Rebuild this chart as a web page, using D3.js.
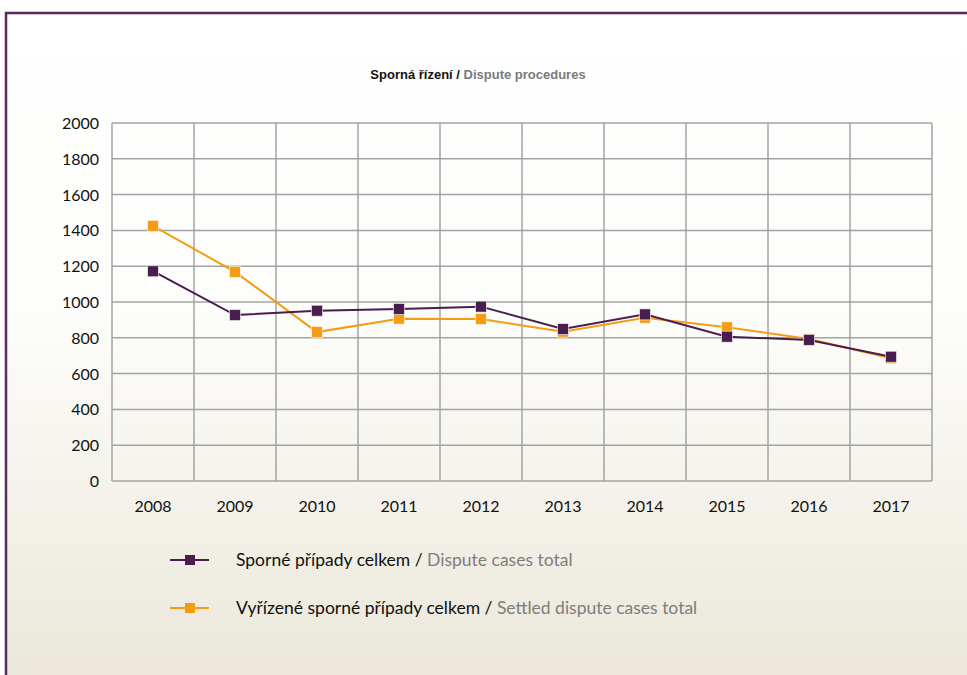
<!DOCTYPE html>
<html>
<head>
<meta charset="utf-8">
<script src="https://cdn.jsdelivr.net/npm/d3@7"></script>
<style>
  html, body { margin: 0; padding: 0; }
  body { width: 967px; height: 675px; overflow: hidden; }
</style>
</head>
<body>
<script>
"use strict";

const years = ["2008", "2009", "2010", "2011", "2012", "2013", "2014", "2015", "2016", "2017"];
const disputeTotal = [1172, 927, 951, 961, 974, 849, 931, 806, 788, 694];
const settledTotal = [1425, 1168, 832, 907, 905, 834, 912, 859, 793, 686];
const yTicks = [0, 200, 400, 600, 800, 1000, 1200, 1400, 1600, 1800, 2000];

const width = 967;
const height = 675;
const purple = "#4a1d4f";
const orange = "#f59c12";

let svg = d3.select("body").append("svg")
    .attr("width", width)
    .attr("height", height);

// background gradient
let defs = svg.append("defs");
let grad = defs.append("linearGradient")
    .attr("id", "bg")
    .attr("x1", 0).attr("y1", 0).attr("x2", 0).attr("y2", 1);
grad.append("stop").attr("offset", "0%").attr("stop-color", "#ffffff");
grad.append("stop").attr("offset", "45%").attr("stop-color", "#fdfdfb");
grad.append("stop").attr("offset", "100%").attr("stop-color", "#ebe7da");

svg.append("rect")
    .attr("width", width).attr("height", height)
    .attr("fill", "#fff");
svg.append("rect")
    .attr("x", 5).attr("y", 12)
    .attr("width", width - 5).attr("height", height - 12)
    .attr("fill", "url(#bg)");

// frame
svg.append("path")
    .attr("d", "M6," + height + "V13H" + width)
    .attr("fill", "none")
    .attr("stroke", "#5b2a5e")
    .attr("stroke-width", 2.5);

// title
let title = svg.append("text")
    .attr("x", 478).attr("y", 79)
    .attr("text-anchor", "middle")
    .style("font-family", "'Liberation Sans Narrow', 'Arial Narrow', 'Liberation Sans', sans-serif")
    .style("font-size", "13px")
    .style("font-weight", "bold");
title.append("tspan").attr("fill", "#111").text("Sporná řízení  ");
title.append("tspan").attr("fill", "#111").text("/ ");
title.append("tspan").attr("fill", "#7a7a7a").text("Dispute procedures");

const margin = { left: 112, right: 932, top: 123, bottom: 481 };

let x = d3.scaleBand()
    .domain(years)
    .range([margin.left, margin.right]);

let y = d3.scaleLinear()
    .domain([0, 2000])
    .range([margin.bottom, margin.top]);

let g = svg.append("g");

// horizontal grid
g.selectAll("line.h")
    .data(yTicks)
    .enter()
    .append("line")
    .attr("class", "h")
    .attr("x1", margin.left).attr("x2", margin.right)
    .attr("y1", d => y(d)).attr("y2", d => y(d))
    .attr("stroke", "#a3a3a3")
    .attr("stroke-width", 1.5);

// vertical grid (band edges)
let edges = years.map(d => x(d)).concat([margin.right]);
g.selectAll("line.v")
    .data(edges)
    .enter()
    .append("line")
    .attr("class", "v")
    .attr("x1", d => d).attr("x2", d => d)
    .attr("y1", margin.top).attr("y2", margin.bottom)
    .attr("stroke", "#a3a3a3")
    .attr("stroke-width", 1.5);

const tickFont = "'Lato', 'Open Sans', sans-serif";

// y labels
g.selectAll("text.yl")
    .data(yTicks)
    .enter()
    .append("text")
    .attr("class", "yl")
    .attr("x", 99)
    .attr("y", d => y(d) + 6)
    .attr("text-anchor", "end")
    .style("font-family", tickFont)
    .style("font-size", "16px")
    .attr("fill", "#111")
    .text(d => d);

// x labels
g.selectAll("text.xl")
    .data(years)
    .enter()
    .append("text")
    .attr("class", "xl")
    .attr("x", d => x(d) + x.bandwidth() / 2)
    .attr("y", 512)
    .attr("text-anchor", "middle")
    .style("font-family", tickFont)
    .style("font-size", "16px")
    .attr("fill", "#111")
    .text(d => d);

let line = d3.line()
    .x((d, i) => x(years[i]) + x.bandwidth() / 2)
    .y(d => y(d));

function drawSeries(values, color) {
    g.append("path")
        .datum(values)
        .attr("d", line)
        .attr("fill", "none")
        .attr("stroke", color)
        .attr("stroke-width", 2);
    g.selectAll(null)
        .data(values)
        .enter()
        .append("rect")
        .attr("x", (d, i) => x(years[i]) + x.bandwidth() / 2 - 5.5)
        .attr("y", d => y(d) - 5.5)
        .attr("width", 11).attr("height", 11)
        .attr("fill", color)
        .attr("stroke", "#fff")
        .attr("stroke-opacity", 0.6)
        .attr("stroke-width", 1);
}

drawSeries(settledTotal, orange);
drawSeries(disputeTotal, purple);

// legend
const legend = [
    { color: purple, cz: "Sporné případy celkem / ", en: "Dispute cases total", y: 560 },
    { color: orange, cz: "Vyřízené sporné případy celkem / ", en: "Settled dispute cases total", y: 608 }
];

let lg = svg.append("g");
legend.forEach(item => {
    lg.append("line")
        .attr("x1", 170).attr("x2", 209)
        .attr("y1", item.y).attr("y2", item.y)
        .attr("stroke", item.color)
        .attr("stroke-width", 2);
    lg.append("rect")
        .attr("x", 185).attr("y", item.y - 5)
        .attr("width", 10).attr("height", 10)
        .attr("fill", item.color);
    let t = lg.append("text")
        .attr("x", 236).attr("y", item.y + 6)
        .style("font-family", tickFont)
        .style("font-size", "17.5px");
    t.append("tspan").attr("fill", "#111").text(item.cz);
    t.append("tspan").attr("fill", "#7d7d7d").text(item.en);
});
</script>
</body>
</html>
